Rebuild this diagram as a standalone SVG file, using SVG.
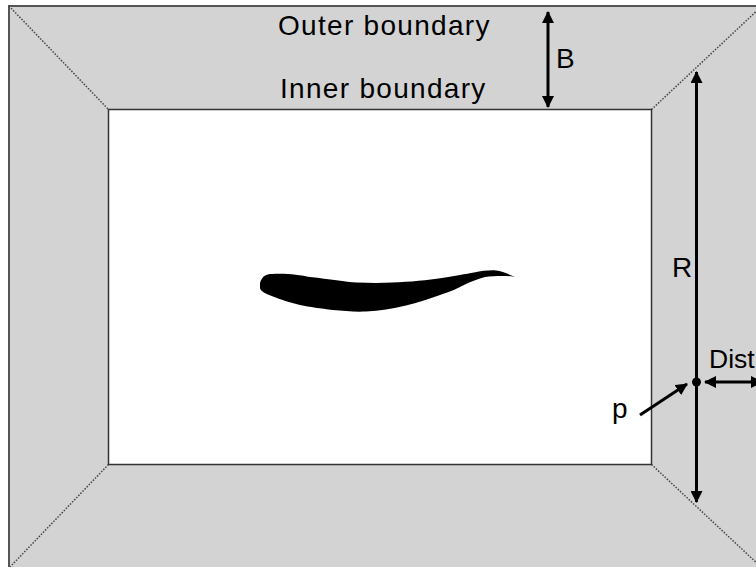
<svg xmlns="http://www.w3.org/2000/svg" width="756" height="567" viewBox="0 0 756 567">
<style>
.lbl{font-family:"Liberation Sans",Arial,sans-serif;font-size:28px;fill:#000;letter-spacing:1.3px}
.diag{stroke:#444;stroke-width:1.5;stroke-dasharray:1.5 1.5;fill:none}
.arr{stroke:#000;stroke-width:3;fill:none}
</style>
<defs>
<marker id="ah" viewBox="0 0 12 12" refX="11" refY="6" markerWidth="12" markerHeight="12" markerUnits="userSpaceOnUse" orient="auto-start-reverse">
<path d="M0,0 L12,6 L0,12 Z" fill="#000"/>
</marker>
</defs>
<g id="outer-boundary">
<rect x="9" y="6" width="760" height="570" fill="#d3d3d3" stroke="#555" stroke-width="2"/>
</g>
<g id="corners">
<line class="diag" x1="9" y1="6" x2="108.5" y2="109.5"/>
<line class="diag" x1="651.5" y1="109.5" x2="762" y2="6"/>
<line class="diag" x1="108.5" y1="464.5" x2="9" y2="568"/>
<line class="diag" x1="651.5" y1="464.5" x2="760" y2="566"/>
</g>
<g id="inner-boundary">
<rect x="108.5" y="109.5" width="543" height="355" fill="#fff" stroke="#333" stroke-width="1.5"/>
</g>
<g id="fish">
<path d="M260,283 C262,276 266,274 272,274 C285,273 300,275 310,277 C330,279 345,282 357,282.5 C370,283 382,283 392,282.5 C410,282 428,280 442,278 C455,276 466,274 474,272.5 C482,271 490,270 496,270.5 C502,271 508,274 515,277 C510,276 506,276 503,276 C496,276 490,276 485,277 C478,279 472,281 466,284 C458,288 450,292 440,295 C428,299 418,303 406,305.5 C392,308.5 380,311 366,311.5 C355,312 343,311 333,310 C320,308.5 310,307 300,305 C290,302.5 280,299.5 273,296.5 C266,294 260,291 260,288 Z" fill="#000"/>
</g>
<g id="labels">
<text class="lbl" x="278" y="34.5">Outer boundary</text>
<text class="lbl" x="280" y="97.5">Inner boundary</text>
<text class="lbl" x="556" y="68">B</text>
<text class="lbl" x="672" y="277">R</text>
<text class="lbl" x="709" y="368" style="letter-spacing:0;font-size:26.5px">Dist</text>
<text class="lbl" x="612" y="418">p</text>
</g>
<g id="point-p">
<circle cx="696.5" cy="382" r="4.5" fill="#000"/>
</g>
<g id="connectors">
<line class="arr" x1="548" y1="12" x2="548" y2="107" marker-start="url(#ah)" marker-end="url(#ah)"/>
<line class="arr" x1="696.5" y1="72" x2="696.5" y2="502" marker-start="url(#ah)" marker-end="url(#ah)"/>
<line class="arr" x1="705" y1="382" x2="762" y2="382" marker-start="url(#ah)" marker-end="url(#ah)"/>
<line class="arr" x1="640" y1="415" x2="687" y2="384" marker-end="url(#ah)"/>
</g>
</svg>
